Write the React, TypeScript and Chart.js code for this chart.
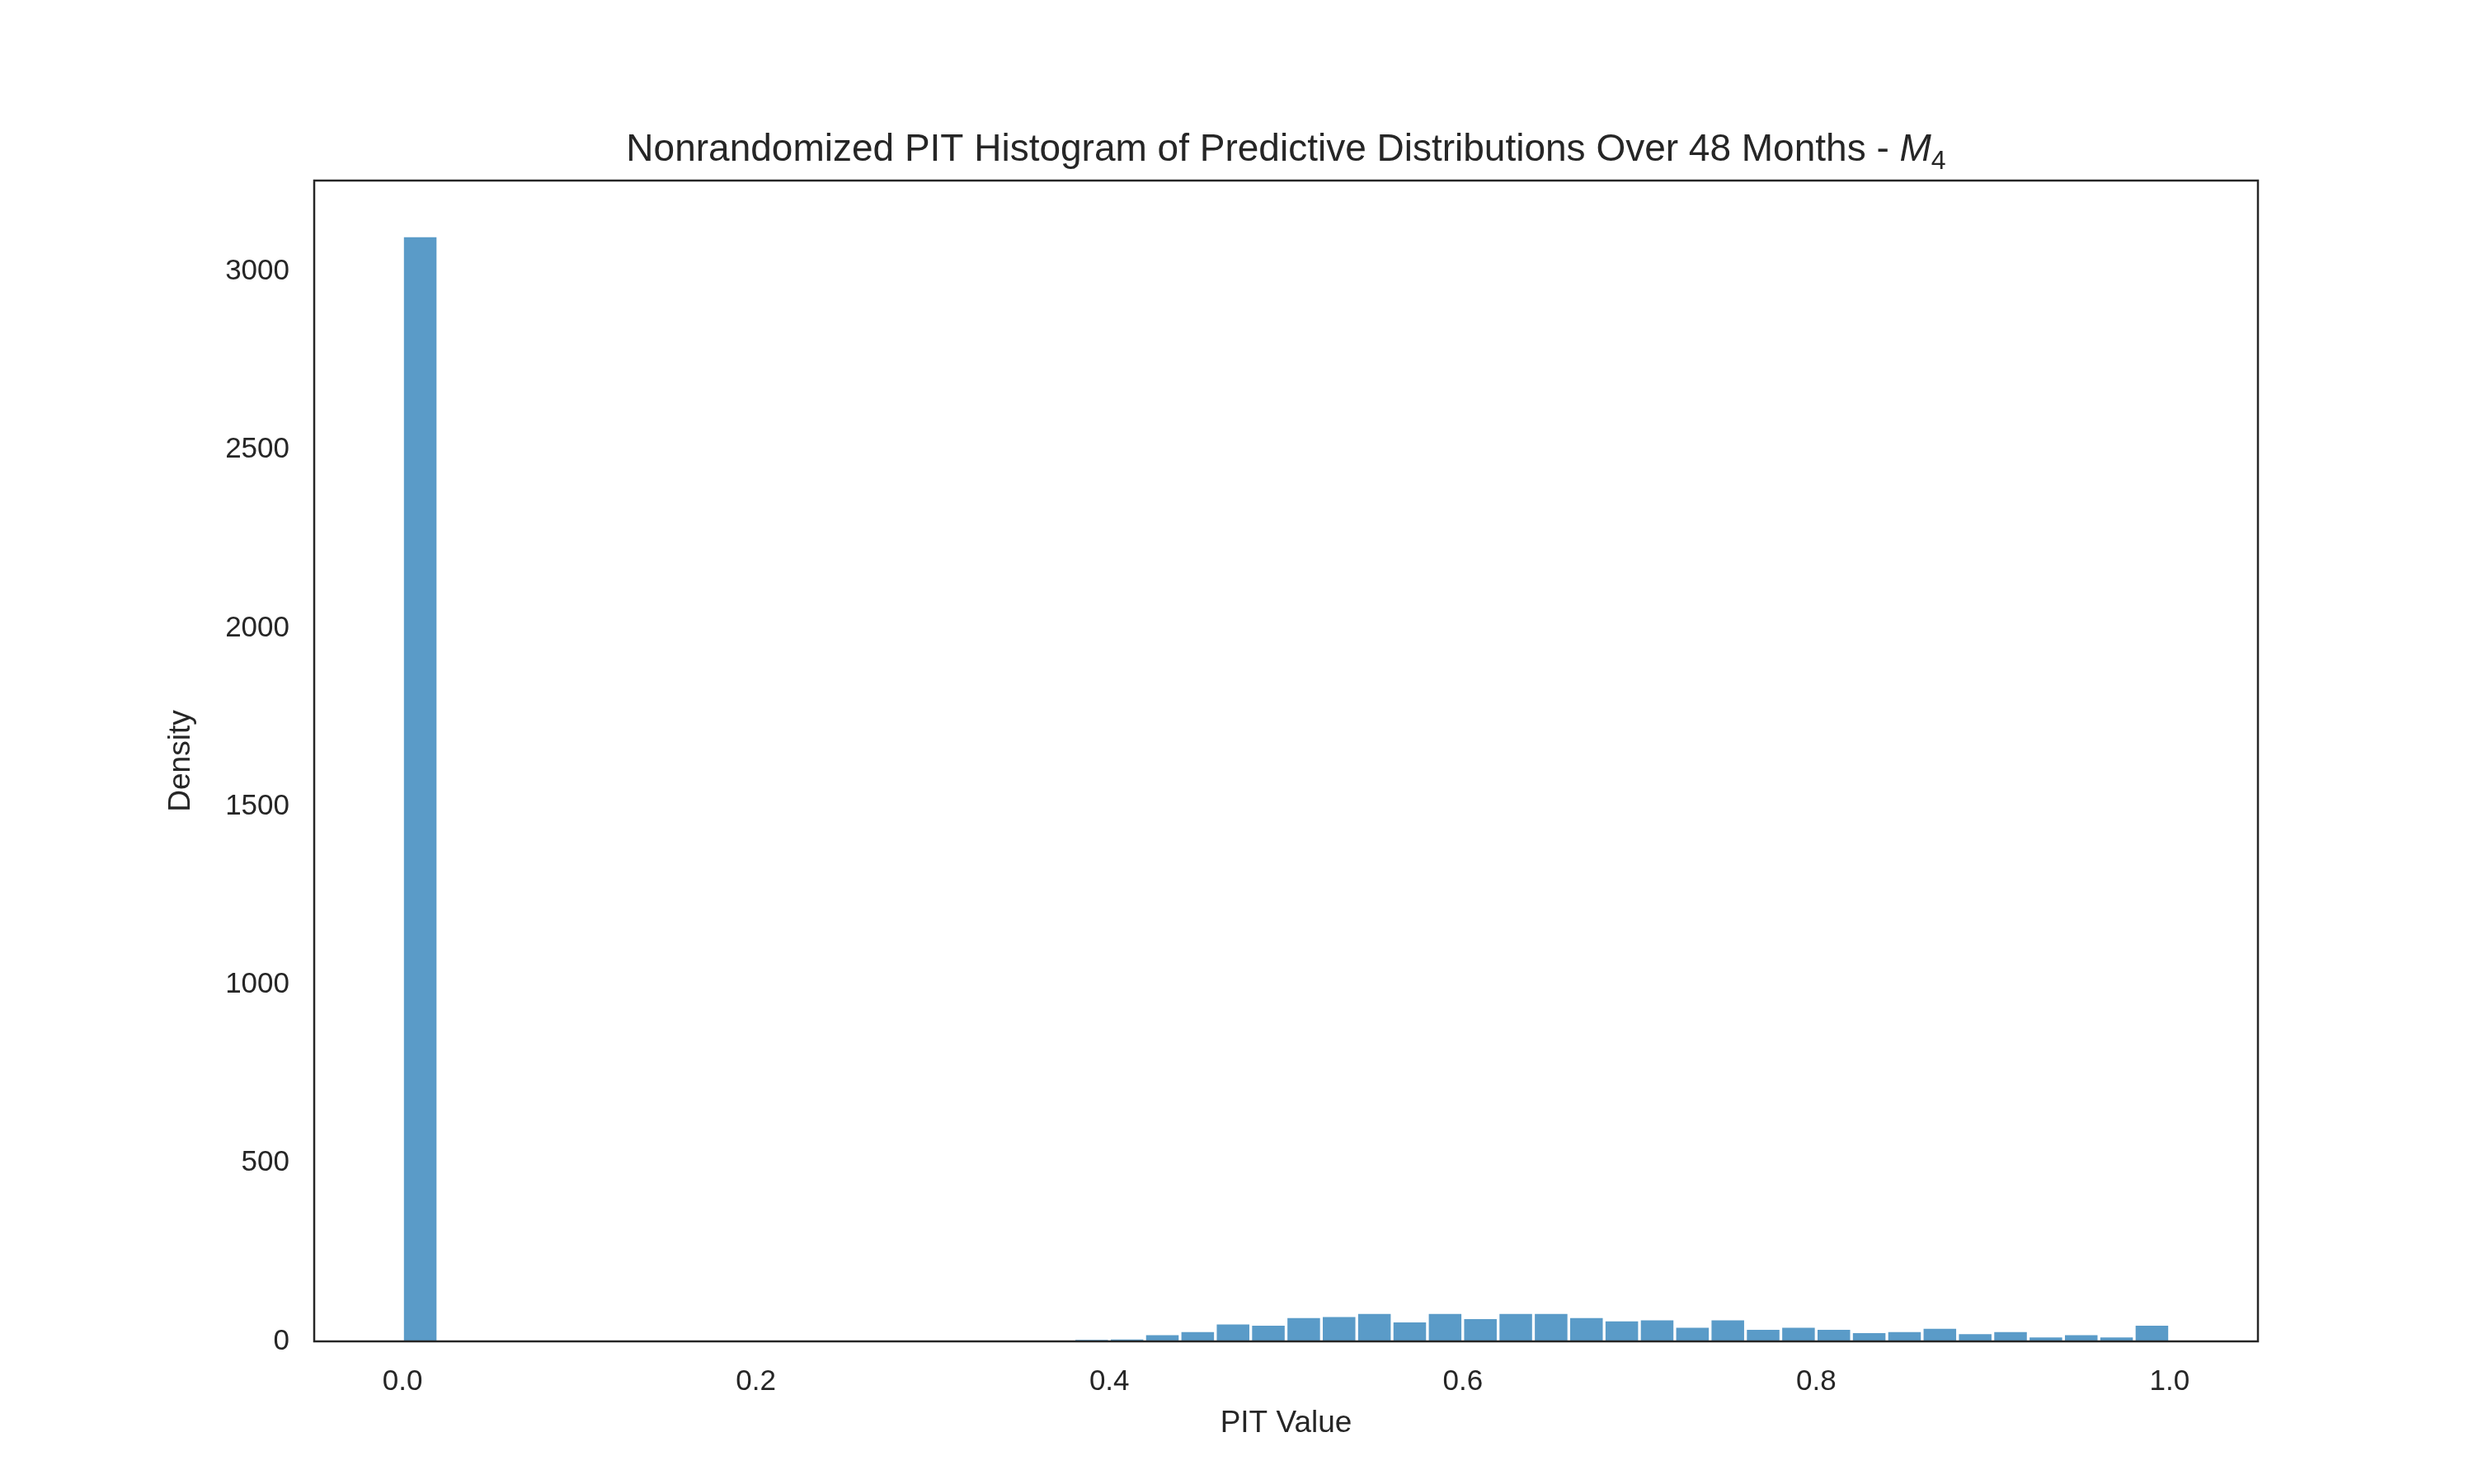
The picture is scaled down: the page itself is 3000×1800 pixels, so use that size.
import React, { useEffect, useRef } from "react";
import { Chart, registerables } from "chart.js";
Chart.register(...registerables);

const binCenters: number[] = Array.from({ length: 50 }, (_, i) => 0.01 + 0.02 * i);
const firstBin: number[] = [3100];
const emptyBins: number[] = new Array(18).fill(0);
const tailBins: number[] = [6, 9, 21, 30, 51, 48, 69, 72, 81, 57, 81, 66, 81, 81, 69, 60, 63, 42, 63, 36, 42, 36, 27, 30, 39, 24, 30, 15, 21, 15, 48];
const counts: number[] = [...firstBin, ...emptyBins, ...tailBins];
const xTicks: number[] = [0, 0.2, 0.4, 0.6, 0.8, 1.0];
const yTicks: number[] = [0, 500, 1000, 1500, 2000, 2500, 3000];

const FONT = "'Liberation Sans', Arial, sans-serif";

export default function App() {
  const ref = useRef<HTMLCanvasElement>(null);
  useEffect(() => {
    document.body.style.margin = "0";
    const frame = {
      id: "frame",
      afterDatasetsDraw(c: any) {
        const { ctx, chartArea: a } = c;
        ctx.save();
        ctx.strokeStyle = "#262626";
        ctx.lineWidth = 2.5;
        ctx.strokeRect(a.left, a.top, a.right - a.left, a.bottom - a.top);
        const parts = [
          { t: "Nonrandomized PIT Histogram of Predictive Distributions Over 48 Months - ", f: `46px ${FONT}`, dy: 0 },
          { t: "M", f: `italic 46px ${FONT}`, dy: 0 },
          { t: "4", f: `32px ${FONT}`, dy: 10 },
        ];
        let total = 0;
        parts.forEach((p) => { ctx.font = p.f; total += ctx.measureText(p.t).width; });
        let x = (a.left + a.right) / 2 - total / 2;
        ctx.fillStyle = "#262626";
        ctx.textBaseline = "alphabetic";
        parts.forEach((p) => { ctx.font = p.f; ctx.fillText(p.t, x, 195 + p.dy); x += ctx.measureText(p.t).width; });
        // axis titles
        ctx.font = `37px ${FONT}`;
        ctx.textAlign = "center";
        ctx.textBaseline = "middle";
        ctx.fillText("PIT Value", (a.left + a.right) / 2, 1727);
        ctx.translate(220, (a.top + a.bottom) / 2);
        ctx.rotate(-Math.PI / 2);
        ctx.fillText("Density", 0, 0);
        ctx.restore();
      },
    };
    const chart = new Chart(ref.current!, {
      type: "bar",
      data: {
        datasets: [{
          data: binCenters.map((x, i) => ({ x, y: counts[i] })),
          backgroundColor: "#5a9bc8",
          borderColor: "#ffffff",
          borderWidth: 2,
          barPercentage: 1,
          categoryPercentage: 1,
        }],
      },
      options: {
        animation: false,
        responsive: false,
        layout: { padding: { top: 219, right: 262, left: 0, bottom: 0 } },
        plugins: { legend: { display: false }, tooltip: { enabled: false } },
        scales: {
          x: {
            type: "linear", min: -0.05, max: 1.05, offset: false,
            grid: { display: false }, border: { display: false },
            afterBuildTicks: (s: any) => { s.ticks = xTicks.map((v) => ({ value: v })); },
            afterFit: (s: any) => { s.height = 173; },
            ticks: { color: "#262626", font: { family: FONT, size: 35 }, padding: 20, maxRotation: 0, callback: (v: any) => Number(v).toFixed(1) },
          },
          y: {
            min: 0, max: 3255,
            grid: { display: false }, border: { display: false },
            afterBuildTicks: (s: any) => { s.ticks = yTicks.map((v) => ({ value: v })); },
            afterFit: (s: any) => { s.width = 381; },
            ticks: { color: "#262626", font: { family: FONT, size: 35 }, padding: 22, callback: (v: any) => String(v) },
          },
        },
      },
      plugins: [frame],
    } as any);
    return () => chart.destroy();
  }, []);
  return (
    <div style={{ width: 3000, height: 1800, background: "#fff" }}>
      <canvas ref={ref} width={3000} height={1800} style={{ width: 3000, height: 1800 }} />
    </div>
  );
}
